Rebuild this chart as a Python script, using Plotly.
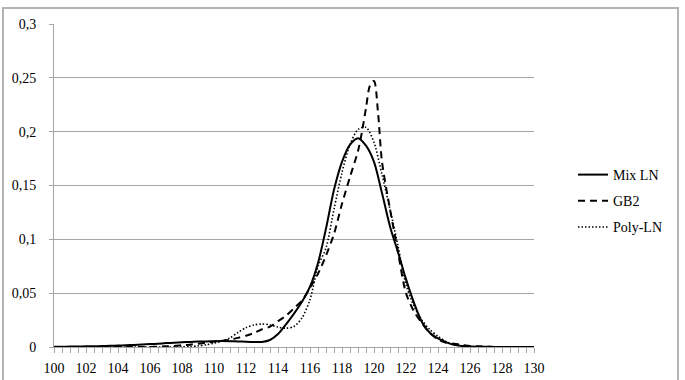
import plotly.graph_objects as go

# common x grid (step 0.5)
x_common = [100 + 0.5 * i for i in range(61)]

mix_ln = [
    0.0003, 0.0003, 0.0004, 0.0005, 0.0006, 0.0007, 0.0009, 0.0011, 0.0013, 0.0016,
    0.0019, 0.0023, 0.0027, 0.0031, 0.0036, 0.0040, 0.0044, 0.0047, 0.0050, 0.0052,
    0.0054, 0.0055, 0.0054, 0.0052, 0.0049, 0.0047, 0.0047, 0.0065, 0.012, 0.021,
    0.031, 0.042, 0.056, 0.078, 0.110, 0.146, 0.172, 0.188, 0.194, 0.187,
    0.172, 0.143, 0.112, 0.088, 0.063, 0.041, 0.023, 0.013, 0.008, 0.0045,
    0.002, 0.001, 0.0005, 0.0003, 0.0002, 0.0001, 0.0001, 0.0, 0.0, 0.0, 0.0,
]

x_gb2 = [
    100, 100.5, 101, 101.5, 102, 102.5, 103, 103.5, 104, 104.5,
    105, 105.5, 106, 106.5, 107, 107.5, 108, 108.5, 109, 109.5,
    110, 110.5, 111, 111.5, 112, 112.5, 113, 113.5, 114, 114.5,
    115, 115.5, 116, 116.5, 117, 117.5, 118, 118.5, 119, 119.25,
    119.5, 119.75, 120, 120.25, 120.5, 121, 121.5, 122, 122.5, 123,
    123.5, 124, 124.5, 125, 125.5, 126, 126.5, 127, 128, 129, 130,
]
gb2 = [
    0.0, 0.0, 0.0, 0.0, 0.0, 0.0, 0.0, 0.0, 0.0, 0.0,
    0.0, 0.0, 0.0001, 0.0003, 0.0006, 0.0010, 0.0016, 0.0022, 0.0030, 0.0040,
    0.0050, 0.0058, 0.0068, 0.0085, 0.0105, 0.013, 0.0165, 0.019, 0.024, 0.029,
    0.036, 0.043, 0.055, 0.068, 0.085, 0.105, 0.133, 0.158, 0.182, 0.200,
    0.222, 0.243, 0.247, 0.218, 0.172, 0.128, 0.088, 0.050, 0.033, 0.022,
    0.013, 0.007, 0.004, 0.003, 0.002, 0.001, 0.0006, 0.0003, 0.0, 0.0, 0.0,
]

poly_ln = [
    0.0, 0.0, 0.0, 0.0, 0.0, 0.0, 0.0, 0.0, 0.0, 0.0,
    0.0, 0.0, 0.0, 0.0, 0.0, 0.0, 0.0001, 0.0004, 0.0010, 0.0020,
    0.0035, 0.0055, 0.0085, 0.0135, 0.018, 0.0205, 0.0214, 0.0205, 0.0185, 0.0175,
    0.019, 0.027, 0.044, 0.075, 0.092, 0.128, 0.162, 0.188, 0.202, 0.204,
    0.190, 0.160, 0.128, 0.094, 0.058, 0.038, 0.025, 0.016, 0.010, 0.005,
    0.002, 0.001, 0.0, 0.0, 0.0, 0.0, 0.0, 0.0, 0.0, 0.0, 0.0,
]

x_tick_vals = list(range(100, 131, 2))
series_names = ["Mix LN", "GB2", "Poly-LN"]

FONT = "Liberation Serif"
GRID = "#a6a6a6"

fig = go.Figure()
fig.add_trace(go.Scatter(
    x=x_common, y=mix_ln, name=series_names[0], mode="lines",
    line=dict(color="black", width=2, shape="spline", smoothing=0.8),
    legendgroup="a",
))
fig.add_trace(go.Scatter(
    x=x_gb2, y=gb2, name=series_names[1], mode="lines",
    line=dict(color="black", width=2, dash="7px,5px", shape="spline", smoothing=0.8),
    legendgroup="b",
))
fig.add_trace(go.Scatter(
    x=x_common, y=poly_ln, name=series_names[2], mode="lines",
    line=dict(color="black", width=1.6, dash="1.5px,2px", shape="spline", smoothing=0.8),
    legendgroup="c",
))

L, R, T, B = 54, 151, 24, 33
W, H = 685, 380
pw, ph = W - L - R, H - T - B

fig.update_layout(
    width=W, height=H,
    margin=dict(l=L, r=R, t=T, b=B, autoexpand=False),
    paper_bgcolor="white", plot_bgcolor="white",
    separators=", ",
    font=dict(family=FONT, size=14, color="black"),
    showlegend=True,
    legend=dict(
        x=(573 - L) / pw, y=(H - B - 159) / ph, xanchor="left", yanchor="top",
        traceorder="grouped", tracegroupgap=5,
        font=dict(family=FONT, size=14, color="black"),
        bgcolor="rgba(0,0,0,0)",
        itemwidth=30,
    ),
    xaxis=dict(
        range=[100, 130], tickvals=x_tick_vals, ticktext=[str(v) for v in x_tick_vals],
        showgrid=False, zeroline=False, automargin=False,
        showline=True, linecolor=GRID, linewidth=1,
        ticks="outside", ticklen=5, tickcolor=GRID, tickwidth=1,
        minor=dict(dtick=0.5, tick0=100, ticks="outside", ticklen=5, tickcolor=GRID, tickwidth=1, showgrid=False),
        tickfont=dict(family=FONT, size=14, color="black"),
        ticklabelstandoff=3,
        fixedrange=True,
    ),
    yaxis=dict(
        range=[0, 0.3], dtick=0.05, tick0=0,
        showgrid=True, gridcolor=GRID, gridwidth=1, zeroline=False, automargin=False,
        showline=True, linecolor=GRID, linewidth=1,
        ticks="outside", ticklen=4, tickcolor=GRID,
        tickfont=dict(family=FONT, size=14, color="black"),
        ticklabelstandoff=10,
        fixedrange=True,
    ),
    shapes=[dict(
        type="rect", xref="paper", yref="paper",
        x0=(3 - L) / pw, x1=(678 - L) / pw,
        y0=(H - B - 385) / ph, y1=(H - B - 8) / ph,
        line=dict(color="#b4b4b4", width=2), fillcolor="rgba(0,0,0,0)", layer="below",
    )],
)

fig.write_html("out.html")
